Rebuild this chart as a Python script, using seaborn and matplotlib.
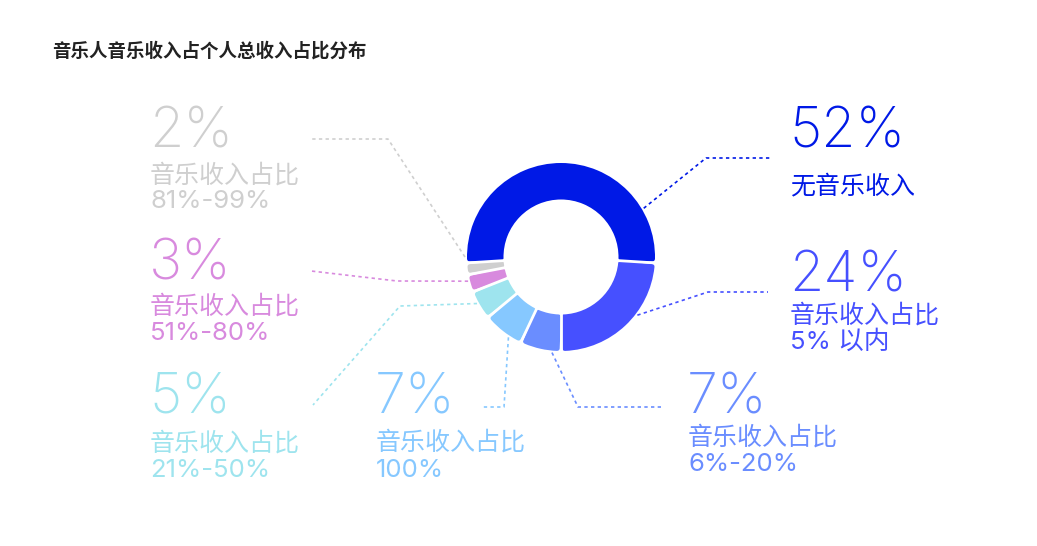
import numpy as np
import matplotlib
matplotlib.use("Agg")
import matplotlib.pyplot as plt
import seaborn as sns

# ---------------- data ----------------
title = "音乐人音乐收入占个人总收入占比分布"
shares = [24, 52, 2, 3, 5, 7, 7]
pct_labels = ["24%", "52%", "2%", "3%", "5%", "7%", "7%"]
sub_labels = ["音乐收入占比", "无音乐收入", "音乐收入占比", "音乐收入占比",
              "音乐收入占比", "音乐收入占比", "音乐收入占比"]
range_labels = ["5% 以内", "", "81%-99%", "51%-80%", "21%-50%", "100%", "6%-20%"]
colors = ["#4650FF", "#0019E6", "#CFCFCF", "#D88ADE", "#9EE4EE", "#86C8FF", "#6A8DFF"]

# ---------------- layout (reference pixel coords, y from top) ----------------
W_PX, H_PX = 1037, 546
CX, CY = 561, 257
R_OUT, R_IN = 94, 57.5
# label group: x, baseline of big number, baseline of line 2, baseline of line 3
label_pos = [(789, 292, 323, 349), (789, 147, 193, None), (149, 148, 183, 208),
             (149, 280, 314, 340), (149, 414, 451, 477), (375, 413, 450, 477),
             (687, 414, 445, 471)]
# leader: anchor angle on donut (deg), elbow point, end point
leaders = [(-37.3, (708, 292), (768, 292)), (30.5, (706, 158), (772, 158)),
           (180.0, (388, 139), (311, 139)), (194.6, (397, 281), (311, 271)),
           (209.0, (400, 306), (313, 405)), (236.8, (504, 407), (482, 407)),
           (264.6, (578, 407), (662, 407))]

sns.set_theme(style="white")
plt.rcParams['font.family'] = ['Noto Sans CJK SC', 'DejaVu Sans']
palette = sns.color_palette(colors)
LABEL_FONT = ['Inter', 'Noto Sans CJK SC']

def Y(y):
    return H_PX - y

fig = plt.figure(figsize=(W_PX / 100, H_PX / 100), dpi=100)
ax = fig.add_axes([0, 0, 1, 1])

wedges, _ = ax.pie(shares, colors=palette, startangle=-90, counterclock=True,
                   center=(CX, Y(CY)), radius=R_OUT,
                   wedgeprops=dict(width=R_OUT - R_IN, linewidth=0))

c = 2.5  # corner rounding radius (px)
for w in wedges:
    t1, t2 = w.theta1, w.theta2
    d = np.degrees(c / (R_IN + c))
    w.set_radius(R_OUT - c)
    w.set_width(R_OUT - R_IN - 2 * c)
    w.set_theta1(t1 + d)
    w.set_theta2(t2 - d)
    w.set_edgecolor(w.get_facecolor())
    w.set_linewidth(2 * c * 0.72)
    w.set_joinstyle('round')
    a = np.radians(t1)
    ax.plot([CX + (R_IN - 6) * np.cos(a), CX + (R_OUT + 6) * np.cos(a)],
            [Y(CY) + (R_IN - 6) * np.sin(a), Y(CY) + (R_OUT + 6) * np.sin(a)],
            color='white', lw=2.0, solid_capstyle='butt', zorder=5)

# leaders
for (ang, elbow, end), col in zip(leaders, colors):
    a = np.radians(ang)
    x0 = CX + 96 * np.cos(a)
    y0 = Y(CY) + 96 * np.sin(a)
    ax.plot([x0, elbow[0], end[0]], [y0, Y(elbow[1]), Y(end[1])],
            color=col, lw=1.2, linestyle=(0, (2, 2)), zorder=2)

# labels
for (x, b1, b2, b3), pct, sub, rng, col in zip(label_pos, pct_labels, sub_labels,
                                                range_labels, colors):
    ax.text(x, Y(b1), pct, color=col, fontsize=40, fontfamily='Inter',
            fontweight='light', va='baseline', ha='left')
    ax.text(x + 1, Y(b2), sub, color=col, fontsize=18, va='baseline', ha='left')
    if b3 is not None and rng:
        ax.text(x + 1, Y(b3), rng, color=col, fontsize=18.5, family=LABEL_FONT,
                va='baseline', ha='left')

ax.text(52, Y(57), title, color='#222222', fontsize=13.3, fontweight='bold',
        va='baseline', ha='left')

ax.set_xlim(0, W_PX)
ax.set_ylim(0, H_PX)
ax.set_aspect('equal')
ax.axis('off')
fig.savefig("out.png", dpi=100, facecolor='white')
